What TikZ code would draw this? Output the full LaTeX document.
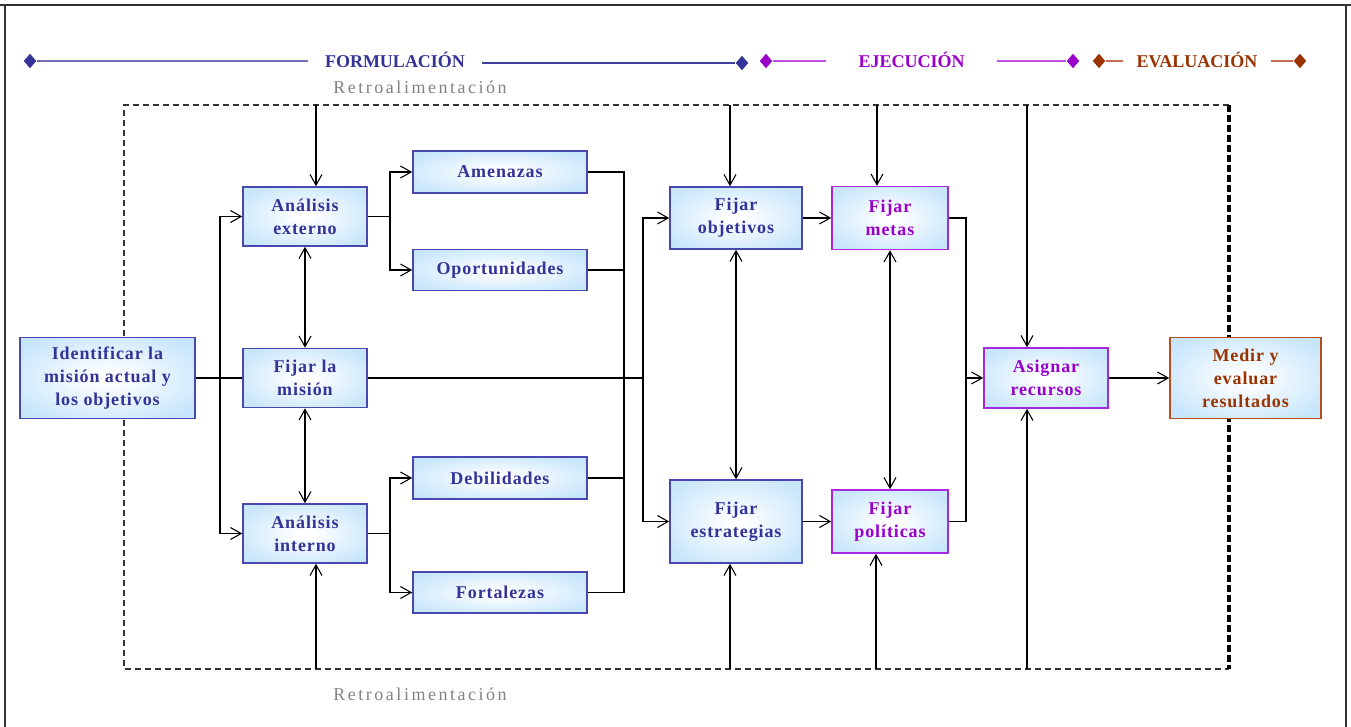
\documentclass[tikz,border=0pt]{standalone}
\usepackage{fontspec}
\setmainfont{Liberation Serif}
\newfontfamily\boxfont[LetterSpace=5]{Liberation Serif}
\newfontfamily\retrofont[LetterSpace=14]{Liberation Serif}
\usetikzlibrary{arrows.meta,shapes.geometric}

\definecolor{boxfill}{RGB}{200,230,251}
\definecolor{fblue}{RGB}{51,51,153}
\definecolor{fbluel}{RGB}{112,112,184}
\definecolor{fbluer}{RGB}{64,64,154}
\definecolor{bblue}{RGB}{72,72,176}
\definecolor{epurple}{RGB}{153,0,204}
\definecolor{epurplel}{RGB}{192,80,224}
\definecolor{bpurple}{RGB}{170,40,220}
\definecolor{ebrown}{RGB}{153,51,0}
\definecolor{ebrownl}{RGB}{192,112,80}
\definecolor{bbrown}{RGB}{180,80,30}
\definecolor{fbgray}{RGB}{130,130,130}
\definecolor{frame}{RGB}{50,50,50}

\pgfdeclareradialshading{boxglow}{\pgfpoint{0bp}{0bp}}{%
  color(0bp)=(white); color(3bp)=(white); color(30bp)=(boxfill); color(50bp)=(boxfill)}

\tikzset{
  box/.style={draw=bblue, line width=1.2pt, shading=boxglow, rectangle,
    align=center, text=fblue, inner sep=0pt,
    font=\boxfont\bfseries\fontsize{13.5}{17.25}\selectfont},
  pbox/.style={box, draw=bpurple, text=epurple},
  rbox/.style={box, draw=bbrown, text=ebrown},
  conn/.style={draw=black, line width=0.95pt},
  arr/.style={conn, -{Straight Barb[length=8pt,width=9pt,line width=0.8pt]}},
  darr/.style={conn, {Straight Barb[length=8pt,width=9pt,line width=0.8pt]}-{Straight Barb[length=8pt,width=9pt,line width=0.8pt]}},
  phase/.style={font=\bfseries\fontsize{13.5}{16}\selectfont, inner ysep=2pt},
  dia/.style={diamond, inner sep=0pt, minimum width=9.5pt, minimum height=11pt},
  retro/.style={font=\retrofont\fontsize{13.5}{16}\selectfont, text=fbgray},
}

\begin{document}
\begin{tikzpicture}[x=0.75pt,y=-0.75pt]
\useasboundingbox (0,0) rectangle (1351,727);

% outer frame
\draw[frame, line width=1.6pt] (0,5) -- (1351,5);
\draw[frame, line width=1.1pt] (5,5) -- (5,727);
\draw[frame, line width=1.1pt] (1346,5) -- (1346,727);

% phase bar
\node[dia, fill=fblue] (d1) at (30,61) {};
\node[phase, text=fblue, inner xsep=12.5pt] (pf) at (395,60) {FORMULACIÓN};
\node[dia, fill=fblue] (d2) at (742,63) {};
\draw[fbluel, line width=1.5pt] (d1) -- (d1 -| pf.west);
\draw[fbluer, line width=1.5pt] (d2 -| pf.east) -- (d2);

\node[dia, fill=epurple] (d3) at (766,61) {};
\node[phase, text=epurple, inner xsep=24.5pt] (pe) at (911.5,60) {EJECUCIÓN};
\node[dia, fill=epurple] (d4) at (1073,61) {};
\draw[epurplel, line width=1.5pt] (d3) -- (d3 -| pe.west);
\draw[epurplel, line width=1.5pt] (d4 -| pe.east) -- (d4);

\node[dia, fill=ebrown] (d5) at (1099,61) {};
\node[phase, text=ebrown, inner xsep=10pt] (pv) at (1197,60) {EVALUACIÓN};
\node[dia, fill=ebrown] (d6) at (1300,61) {};
\draw[ebrownl, line width=1.5pt] (d5) -- (d5 -| pv.west);
\draw[ebrownl, line width=1.5pt] (d6 -| pv.east) -- (d6);

% feedback labels
\node[retro] (rt) at (420,87) {Retroalimentación};
\node[retro] (rb) at (420,694) {Retroalimentación};

% feedback loop
\draw[frame, line width=1.1pt, dash pattern=on 4.5pt off 3pt]
  (1229,105) -- (124,105) -- (124,669) -- (1229,669);
\draw[black, line width=2.4pt, dash pattern=on 5pt off 2.5pt] (1229,105) -- (1229,669);

% boxes
\node[box, minimum width=131.25pt, minimum height=60.75pt] (idm) at (107.5,378) {Identificar la\\misión actual y\\los objetivos};
\node[box, minimum width=93pt, minimum height=44.25pt] (ext) at (305,216.5) {Análisis\\externo};
\node[box, minimum width=93pt, minimum height=44.25pt] (mis) at (305,378) {Fijar la\\misión};
\node[box, minimum width=93pt, minimum height=44.25pt] (int) at (305,533.5) {Análisis\\interno};
\node[box, minimum width=130.5pt, minimum height=31.5pt] (ame) at (500,172) {Amenazas};
\node[box, minimum width=130.5pt, minimum height=31pt] (opo) at (500,270) {Oportunidades};
\node[box, minimum width=130.5pt, minimum height=31.5pt] (deb) at (500,478) {Debilidades};
\node[box, minimum width=130.5pt, minimum height=31pt] (fort) at (500,592.5) {Fortalezas};
\node[box, minimum width=99pt, minimum height=46.5pt] (obj) at (736,218) {Fijar\\objetivos};
\node[box, minimum width=99pt, minimum height=62.25pt] (est) at (736,521.5) {Fijar\\estrategias};
\node[pbox, minimum width=87pt, minimum height=47.25pt] (met) at (890,218) {Fijar\\metas};
\node[pbox, minimum width=87pt, minimum height=47.25pt] (pol) at (890,521.5) {Fijar\\políticas};
\node[pbox, minimum width=93pt, minimum height=45pt] (asi) at (1046,378) {Asignar\\recursos};
\node[rbox, minimum width=113.25pt, minimum height=60.75pt] (med) at (1245.5,378) {Medir y\\evaluar\\resultados};

% junction points
\coordinate (j1) at (220,378);
\coordinate (j2) at (390,0);
\coordinate (j3) at (624,0);
\coordinate (j4) at (643,0);
\coordinate (j5) at (966,0);

% feedback entry points on the loop
\coordinate (t1) at (316,105);  \coordinate (b1) at (316,669);
\coordinate (t2) at (730,105);  \coordinate (b2) at (730,669);
\coordinate (t3) at (877,105);  \coordinate (b3) at (876,669);
\coordinate (t4) at (1027,105); \coordinate (b4) at (1027,669);

% mission split
\draw[conn] (idm.east) -- (j1) -- (mis.west);
\draw[arr] (j1) |- (ext.west);
\draw[arr] (j1) |- (int.west);

% external and internal analysis
\draw[conn] (ext.east) -- (ext.east -| j2);
\draw[arr] (ext.east -| j2) |- (ame.west);
\draw[arr] (ext.east -| j2) |- (opo.west);
\draw[conn] (int.east) -- (int.east -| j2);
\draw[arr] (int.east -| j2) |- (deb.west);
\draw[arr] (int.east -| j2) |- (fort.west);
\draw[darr] (ext.south) -- (mis.north);
\draw[darr] (mis.south) -- (int.north);

% SWOT collector
\draw[conn] (ame.east) -| (fort.east -| j3) -- (fort.east);
\draw[conn] (opo.east) -- (opo.east -| j3);
\draw[conn] (deb.east) -- (deb.east -| j3);

% mission to objectives and strategies
\draw[conn] (mis.east) -- (mis.east -| j4);
\draw[arr] (mis.east -| j4) |- (obj.west);
\draw[arr] (mis.east -| j4) |- (est.west);
\draw[darr] (obj.south) -- (est.north);

% execution
\draw[arr] (obj.east) -- (met.west);
\draw[arr] (est.east) -- (pol.west);
\draw[darr] (met.south) -- (pol.north);
\draw[conn] (met.east) -| (pol.east -| j5) -- (pol.east);
\draw[arr] (asi.west -| j5) -- (asi.west);
\draw[arr] (asi.east) -- (med.west);

% feedback arrows
\draw[arr] (t1) -- (t1 |- ext.north);
\draw[arr] (b1) -- (b1 |- int.south);
\draw[arr] (t2) -- (t2 |- obj.north);
\draw[arr] (b2) -- (b2 |- est.south);
\draw[arr] (t3) -- (t3 |- met.north);
\draw[arr] (b3) -- (b3 |- pol.south);
\draw[arr] (t4) -- (t4 |- asi.north);
\draw[arr] (b4) -- (b4 |- asi.south);
\end{tikzpicture}
\end{document}
